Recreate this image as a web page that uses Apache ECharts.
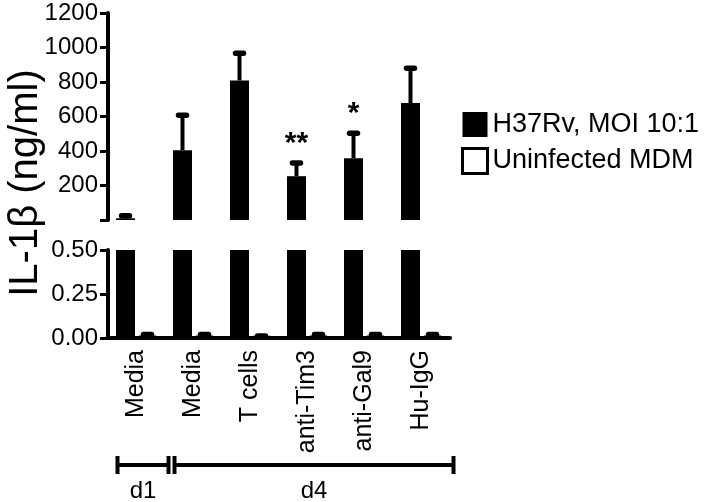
<!DOCTYPE html>
<html>
<head>
<meta charset="utf-8">
<script src="https://cdn.jsdelivr.net/npm/echarts@6/dist/echarts.min.js"></script>
<style>
  html, body { margin: 0; padding: 0; background: #fff; }
  #chart { width: 711px; height: 502px; }
</style>
</head>
<body>
<div id="chart"></div>
<script>
// categories and values
const categories = ['Media', 'Media', 'T cells', 'anti-Tim3', 'anti-Gal9', 'Hu-IgG'];
const infected = [10, 405, 809, 254, 358, 678];          // H37Rv, MOI 10:1 (ng/ml)
const infectedErr = [15, 202, 158, 77, 145, 202];
const uninfected = [0.01, 0.01, 0.008, 0.01, 0.01, 0.01]; // Uninfected MDM
const uninfectedErr = [0.01, 0.01, 0.004, 0.01, 0.01, 0.01];
const stars = ['', '', '', '**', '*', ''];
const groups = [[0, 0], [1, 5]];
const groupNames = ['d1', 'd4'];
const topTicks = { min: 0, max: 1200, interval: 200 };
const bottomTicks = { min: 0, max: 0.5, interval: 0.25 };

const FONT = 'Liberation Sans, Arial, sans-serif';
const BAR_W = 19;
const GAP = 3;
const OFF = (BAR_W + GAP) / 2;

function errorBar(offset, errs, marks) {
    return function (params, api) {
        const i = params.dataIndex;
        const x = api.coord([i, 0])[0] + offset;
        const yBar = api.coord([i, api.value(1)])[1];
        const yTop = api.coord([i, api.value(1) + errs[i]])[1];
        const children = [
            { type: 'line', shape: { x1: x, y1: yBar, x2: x, y2: yTop },
              style: { stroke: '#000', lineWidth: 4 } },
            { type: 'line', shape: { x1: x - 4, y1: yTop, x2: x + 4, y2: yTop },
              style: { stroke: '#000', lineWidth: 5.5, lineCap: 'round' } }
        ];
        if (marks && marks[i]) {
            children.push({ type: 'text', x: x, y: yTop - 4,
                style: { text: marks[i], fill: '#000', font: 'bold 30px ' + FONT,
                         align: 'center', verticalAlign: 'bottom' } });
        }
        return { type: 'group', children: children };
    };
}

function axisY(grid, t, fmt) {
    return {
        type: 'value', gridIndex: grid, min: t.min, max: t.max, interval: t.interval,
        splitLine: { show: false },
        axisLine: { show: true, lineStyle: { color: '#000', width: 4 } },
        axisTick: { show: true, length: 8, lineStyle: { color: '#000', width: 3 } },
        axisLabel: { color: '#000', fontSize: 24, fontFamily: FONT, margin: 10, formatter: fmt }
    };
}

const chart = echarts.init(document.getElementById('chart'));
chart.setOption({
    animation: false,
    grid: [
        { left: 108, width: 342, top: 13, height: 207 },
        { left: 108, width: 342, top: 250, height: 88 }
    ],
    xAxis: [
        { type: 'category', gridIndex: 0, data: categories,
          axisLine: { show: false }, axisTick: { show: false }, axisLabel: { show: false } },
        { type: 'category', gridIndex: 1, data: categories,
          axisLine: { lineStyle: { color: '#000', width: 4 } },
          axisTick: { alignWithLabel: true, length: 6, lineStyle: { color: '#000', width: 3 } },
          axisLabel: { color: '#000', fontSize: 25, fontFamily: FONT, rotate: 90, margin: 12 } }
    ],
    yAxis: [
        axisY(0, topTicks, v => v === 0 ? '' : String(v)),
        axisY(1, bottomTicks, v => v.toFixed(2))
    ],
    legend: {
        orient: 'vertical', left: 456, top: 106, itemWidth: 25, itemHeight: 25, itemGap: 9,
        icon: 'rect',
        textStyle: { color: '#000', fontSize: 27, fontFamily: FONT },
        data: [
            { name: 'H37Rv, MOI 10:1', itemStyle: { color: '#000', borderWidth: 0 } },
            { name: 'Uninfected MDM', itemStyle: { color: '#fff', borderColor: '#000', borderWidth: 3 } }
        ]
    },
    graphic: [{
        type: 'text', x: 26, y: 183, rotation: Math.PI / 2,
        style: { text: 'IL-1β (ng/ml)', fill: '#000', font: '40px ' + FONT,
                 align: 'center', verticalAlign: 'middle' }
    }],
    series: [
        { name: 'H37Rv, MOI 10:1', type: 'bar', xAxisIndex: 0, yAxisIndex: 0, data: infected,
          barWidth: BAR_W, barGap: (GAP / BAR_W * 100) + '%', itemStyle: { color: '#000' } },
        { name: 'Uninfected MDM', type: 'bar', xAxisIndex: 0, yAxisIndex: 0, data: uninfected,
          barWidth: BAR_W, itemStyle: { color: '#fff', borderWidth: 0 } },
        { name: 'H37Rv, MOI 10:1', type: 'bar', xAxisIndex: 1, yAxisIndex: 1, data: infected,
          barWidth: BAR_W, barGap: (GAP / BAR_W * 100) + '%', itemStyle: { color: '#000' } },
        { name: 'Uninfected MDM', type: 'bar', xAxisIndex: 1, yAxisIndex: 1, data: uninfected,
          barWidth: BAR_W, itemStyle: { color: '#fff', borderColor: '#000', borderWidth: 3 } },
        { type: 'custom', xAxisIndex: 0, yAxisIndex: 0, z: 3,
          data: infected.map((v, i) => [i, v]), encode: { x: 0, y: 1 },
          renderItem: errorBar(-OFF, infectedErr, stars) },
        { type: 'custom', xAxisIndex: 1, yAxisIndex: 1, z: 3,
          data: uninfected.map((v, i) => [i, v]), encode: { x: 0, y: 1 },
          renderItem: errorBar(OFF, uninfectedErr, null) },
        { type: 'custom', xAxisIndex: 1, yAxisIndex: 1, clip: false, silent: true,
          data: groups.map(g => [g[0], g[1], 0]), encode: { x: [0, 1], y: 2 },
          renderItem: function (params, api) {
              const x1 = api.coord([api.value(0), 0])[0] - 19;
              const x2 = api.coord([api.value(1), 0])[0] + 32;
              const y = api.coord([0, 0])[1] + 127;
              return { type: 'group', children: [
                  { type: 'line', shape: { x1: x1, y1: y, x2: x2, y2: y },
                    style: { stroke: '#000', lineWidth: 4 } },
                  { type: 'line', shape: { x1: x1, y1: y - 9, x2: x1, y2: y + 9 },
                    style: { stroke: '#000', lineWidth: 4 } },
                  { type: 'line', shape: { x1: x2, y1: y - 9, x2: x2, y2: y + 9 },
                    style: { stroke: '#000', lineWidth: 4 } },
                  { type: 'text', x: (x1 + x2) / 2, y: y + 26,
                    style: { text: groupNames[params.dataIndex], fill: '#000',
                             font: '24px ' + FONT, align: 'center', verticalAlign: 'middle' } }
              ] };
          } }
    ]
});
</script>
</body>
</html>
